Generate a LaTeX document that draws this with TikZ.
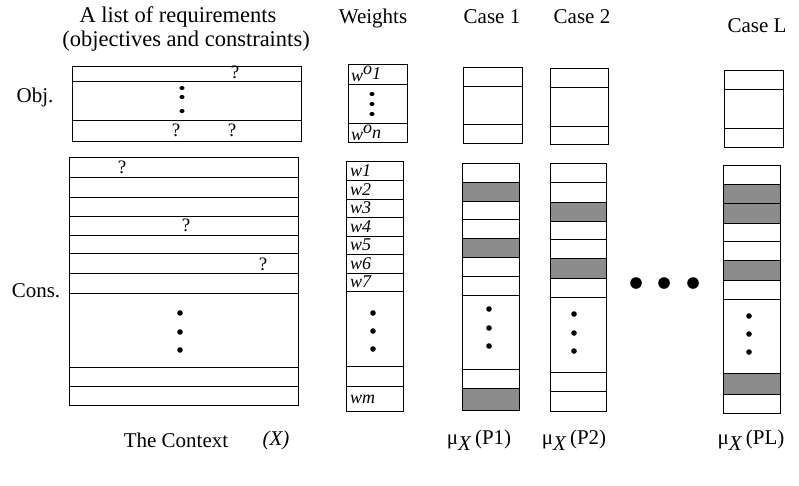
\documentclass[tikz,border=0pt]{standalone}
\usepackage{fontspec}
\setmainfont{Liberation Serif}
\begin{document}
\begin{tikzpicture}[x=1pt,y=-1pt,
  box/.style={draw=black,line width=0.9pt},
  shade/.style={fill=black!45},
  lbl/.style={font=\fontsize{21}{24}\selectfont, inner sep=0pt},
  big/.style={font=\fontsize{22.5}{26}\selectfont, inner sep=0pt},
  wl/.style={font=\fontsize{18}{20}\selectfont\itshape, anchor=west, inner sep=0pt},
  qm/.style={font=\fontsize{19}{20}\selectfont, inner sep=0pt},
  bigdot/.style={fill=black}]
\useasboundingbox (0,0) rectangle (799,485);

% ---------- titles ----------
\node[big] (t1) at (178,17) {A list of requirements};
\node[big] (t2) at (186,41) {(objectives and constraints)};
\node[lbl] (tw) at (373,18) {Weights};
\node[lbl] (tc1) at (492,17) {Case 1};
\node[lbl] (tc2) at (582,17) {Case 2};
\node[lbl] (tcl) at (757,26) {Case L};
\node[lbl] (obj) at (35,97) {Obj.};
\node[lbl] (cons) at (36,291) {Cons.};

% ---------- requirements: objectives ----------
\draw[box] (72,66) rectangle (301,141);
\foreach \y in {81,120} \draw[box] (72,\y) -- (301,\y);
\foreach \y in {88,97,111} \fill (182,\y) ellipse (2.6 and 2);
\node[qm] (q1) at (235,72) {?};
\node[qm] (q2) at (176,130) {?};
\node[qm] (q3) at (232,130) {?};

% ---------- requirements: constraints ----------
\draw[box] (69,157) rectangle (298,405);
\foreach \y in {177,197,216,235,253,273,293,367,386} \draw[box] (69,\y) -- (298,\y);
\foreach \y in {313,332,350} \fill (180,\y) circle (2.8);
\node[qm] (q4) at (122,167) {?};
\node[qm] (q5) at (186,225) {?};
\node[qm] (q6) at (263,264) {?};

% ---------- weights ----------
\draw[box] (348,64) rectangle (407,142);
\foreach \y in {84,123} \draw[box] (348,\y) -- (407,\y);
\foreach \y in {94,104,114} \fill (372,\y) ellipse (2.6 and 2);
\node[wl] (wo1) at (351,74) {w\raisebox{0.4em}{o}\raisebox{0.1em}{1}};
\node[wl] (won) at (351,133) {w\raisebox{0.4em}{o}\raisebox{0.1em}{n}};

\draw[box] (346,161) rectangle (403,411);
\foreach \y in {180,199,217,236,254,273,291,366,386} \draw[box] (346,\y) -- (403,\y);
\foreach \y in {313,331,349} \fill (373,\y) circle (2.8);
\node[wl] (w1) at (350,171) {w1};
\node[wl] (w2) at (350,190) {w2};
\node[wl] (w3) at (350,208) {w3};
\node[wl] (w4) at (350,227) {w4};
\node[wl] (w5) at (350,245) {w5};
\node[wl] (w6) at (350,264) {w6};
\node[wl] (w7) at (350,282) {w7};
\node[wl] (wm) at (350,399) {wm};

% ---------- case 1 ----------
\draw[box] (463,67) rectangle (522,143);
\foreach \y in {86,124} \draw[box] (463,\y) -- (522,\y);
\fill[shade] (462,182) rectangle (519,201);
\fill[shade] (462,238) rectangle (519,257);
\fill[shade] (462,388) rectangle (519,410);
\draw[box] (462,163) rectangle (519,410);
\foreach \y in {182,201,219,238,257,276,295,369,388} \draw[box] (462,\y) -- (519,\y);
\foreach \y in {309,328,346} \fill (489,\y) circle (2.8);

% ---------- case 2 ----------
\draw[box] (550,68) rectangle (608,144);
\foreach \y in {87,126} \draw[box] (550,\y) -- (608,\y);
\fill[shade] (550,202) rectangle (606,221);
\fill[shade] (550,258) rectangle (606,278);
\draw[box] (550,163) rectangle (606,411);
\foreach \y in {182,202,221,239,258,278,297,372,391} \draw[box] (550,\y) -- (606,\y);
\foreach \y in {314,333,351} \fill (574,\y) circle (2.8);

% ---------- ellipsis ----------
\foreach \x in {636,664,693} \fill[bigdot] (\x,283) circle (5.8);

% ---------- case L ----------
\draw[box] (724,70) rectangle (783,147);
\foreach \y in {89,128} \draw[box] (724,\y) -- (783,\y);
\fill[shade] (723,184) rectangle (780,223);
\fill[shade] (723,260) rectangle (780,280);
\fill[shade] (723,373) rectangle (780,394);
\draw[box] (723,165) rectangle (780,413);
\foreach \y in {184,203,223,241,260,280,299,373,394} \draw[box] (723,\y) -- (780,\y);
\foreach \y in {316,334,352} \fill (749,\y) circle (2.8);

% ---------- bottom labels ----------
\node[lbl] (ctx) at (176,440) {The Context};
\node[lbl] (ctxx) at (276,440) {\textit{(X)}};
\node[lbl] (mu1) at (479,440) {μ\raisebox{-0.3em}{\textit{X}}\,(P1)};
\node[lbl] (mu2) at (574,440) {μ\raisebox{-0.3em}{\textit{X}}\,(P2)};
\node[lbl] (mul) at (751,440) {μ\raisebox{-0.3em}{\textit{X}}\,(PL)};
\end{tikzpicture}
\end{document}
